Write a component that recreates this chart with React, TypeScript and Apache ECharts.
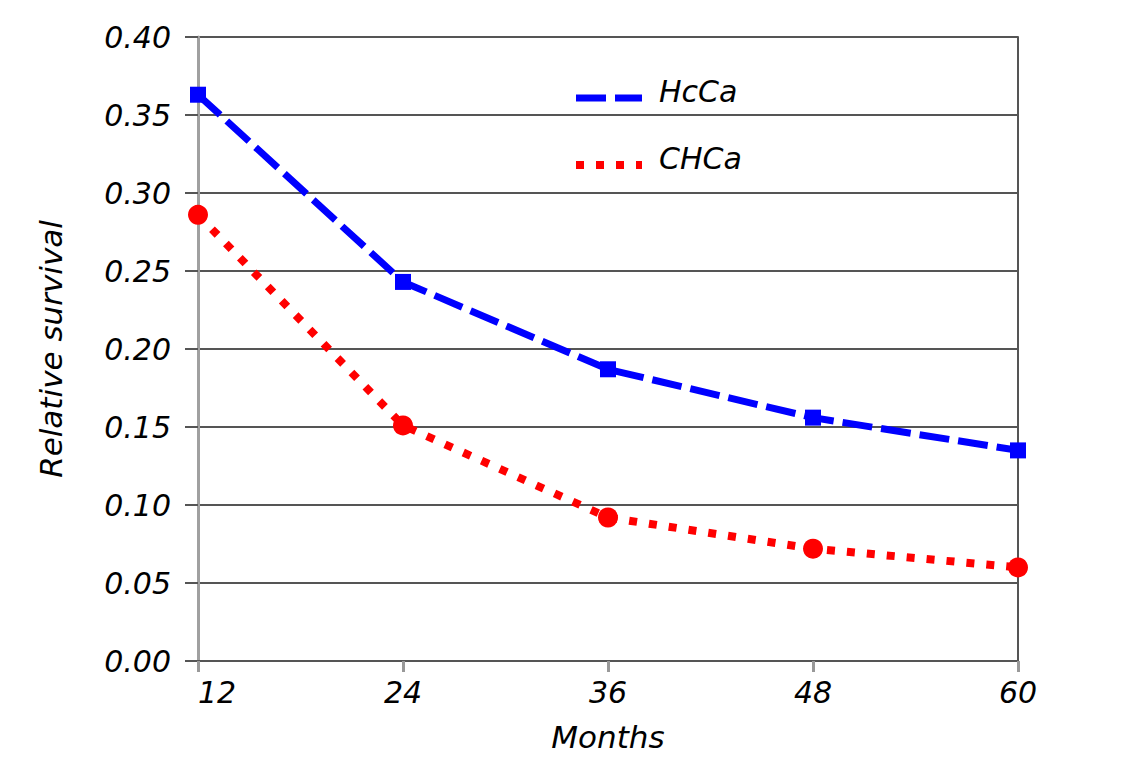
import React, { useEffect, useRef } from "react";
import * as echarts from "echarts";

const months = [12, 24, 36, 48, 60];
const hcca = [0.363, 0.243, 0.187, 0.156, 0.135];
const chca = [0.286, 0.151, 0.092, 0.072, 0.060];
const seriesNames = ["HcCa", "CHCa"];

const FONT = "DejaVu Sans";

export default function App() {
  const ref = useRef<HTMLDivElement>(null);
  useEffect(() => {
    const chart = echarts.init(ref.current!, null, { renderer: "svg" });
    const textBase = {
      fontFamily: FONT,
      fontStyle: "italic" as const,
      fontSize: 30,
      color: "#000",
    };
    const blueLine = { color: "#0000ff", width: 7, type: [30, 9] };
    const redLine = { color: "#ff0000", width: 8, type: [8, 12] };
    chart.setOption({
      animation: false,
      backgroundColor: "#fff",
      grid: { left: 198, right: 116, top: 37, bottom: 109 },
      legend: {
        left: 567,
        top: 71,
        orient: "vertical",
        itemWidth: 66,
        itemHeight: 14,
        itemGap: 37,
        itemStyle: { opacity: 0 },
        formatter: "{a|{name}}",
        textStyle: {
          ...textBase,
          rich: { a: { ...textBase, padding: [0, 0, 14, 12] } },
        },
        data: [
          { name: seriesNames[0], lineStyle: blueLine },
          { name: seriesNames[1], lineStyle: redLine },
        ],
      },
      xAxis: {
        type: "value",
        min: 12,
        max: 60,
        interval: 12,
        name: "Months",
        nameLocation: "middle",
        nameGap: 60,
        nameTextStyle: { ...textBase, fontSize: 31 },
        axisLine: { show: true, lineStyle: { color: "#555", width: 2 } },
        axisTick: { show: true, length: 11, lineStyle: { color: "#999", width: 3 } },
        axisLabel: { ...textBase, margin: 16, alignMinLabel: "left" },
        splitLine: { show: false },
      },
      yAxis: [
        {
          type: "value",
          min: 0,
          max: 0.4,
          interval: 0.05,
          name: "Relative survival",
          nameLocation: "middle",
          nameGap: 132,
          nameTextStyle: { ...textBase, fontSize: 31 },
          axisLine: { show: true, lineStyle: { color: "#a0a0a0", width: 3 } },
          axisTick: { show: true, length: 13, lineStyle: { color: "#555", width: 2 } },
          axisLabel: {
            ...textBase,
            margin: 27,
            formatter: (v: number) => v.toFixed(2),
          },
          splitLine: { show: true, lineStyle: { color: "#555", width: 2 } },
        },
        {
          type: "value",
          position: "right",
          min: 0,
          max: 0.4,
          interval: 0.05,
          axisLine: { show: true, lineStyle: { color: "#555", width: 2 } },
          axisTick: { show: false },
          axisLabel: { show: false },
          splitLine: { show: false },
        },
      ],
      series: [
        {
          name: seriesNames[0],
          type: "line",
          data: months.map((m, i) => [m, hcca[i]]),
          symbol: "rect",
          symbolSize: 16,
          itemStyle: { color: "#0000ff" },
          lineStyle: blueLine,
          z: 3,
        },
        {
          name: seriesNames[1],
          type: "line",
          data: months.map((m, i) => [m, chca[i]]),
          symbol: "circle",
          symbolSize: 20,
          itemStyle: { color: "#ff0000" },
          lineStyle: redLine,
          z: 3,
        },
      ],
    });
    return () => chart.dispose();
  }, []);
  return (
    <div
      ref={ref}
      style={{ position: "absolute", left: 0, top: 0, width: 1134, height: 770 }}
    />
  );
}
